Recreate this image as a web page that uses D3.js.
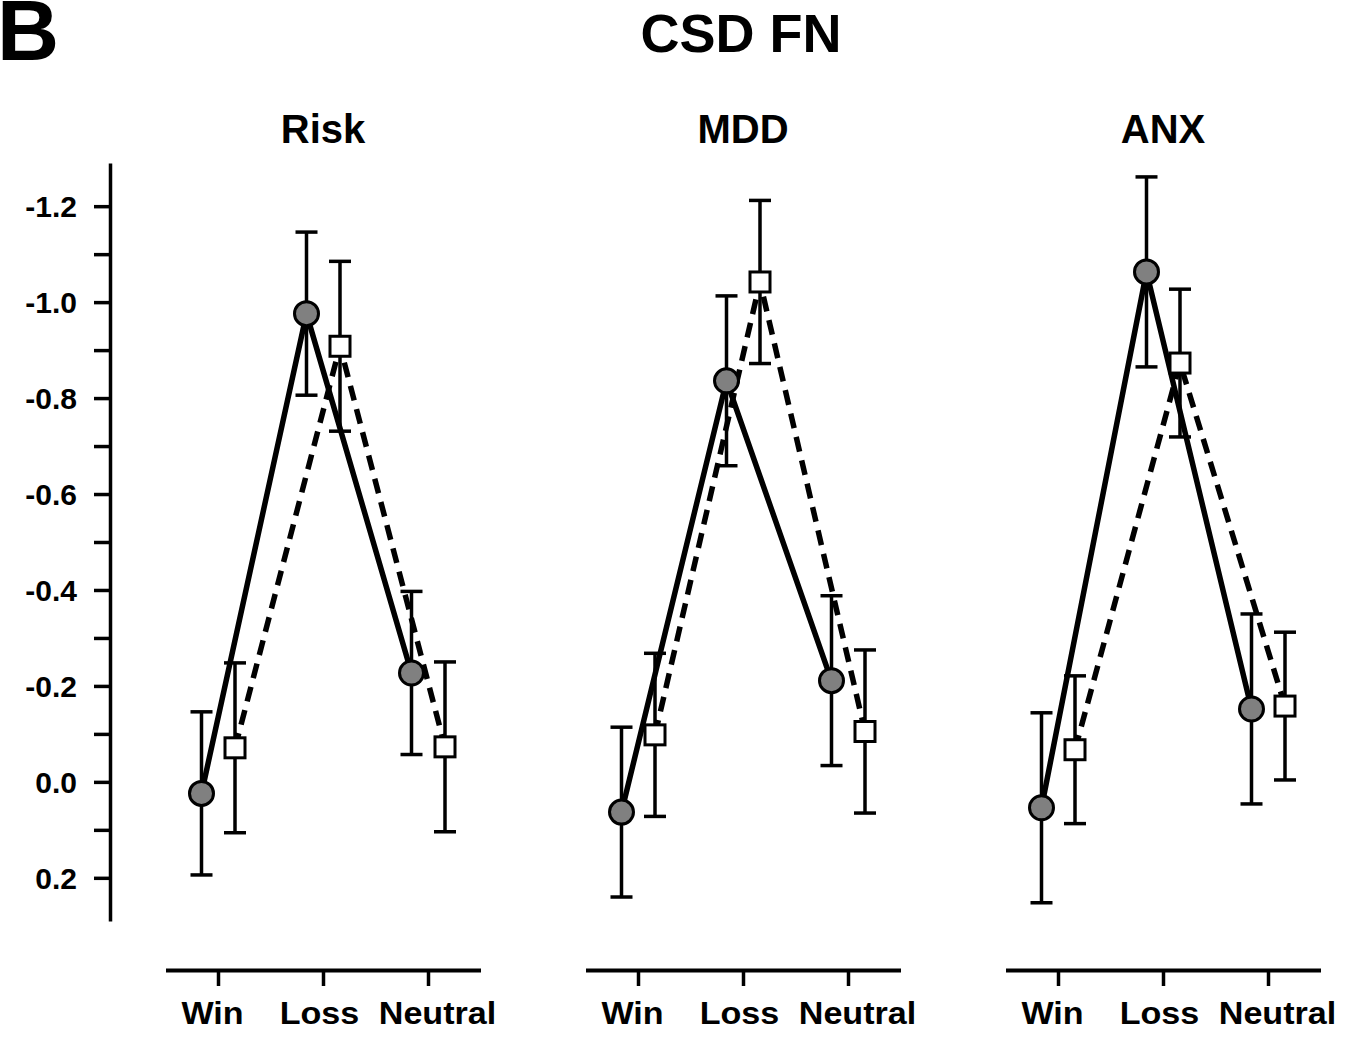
<!DOCTYPE html>
<html>
<head>
<meta charset="utf-8">
<script src="https://cdn.jsdelivr.net/npm/d3@7"></script>
<style>
  body { margin: 0; background: #fff; }
  svg { display: block; background: #fff; }
  text { font-family: "Liberation Sans", Arial, Helvetica, sans-serif; font-weight: bold; fill: #000; }
</style>
</head>
<body>
<svg id="chart" width="1366" height="1043"></svg>
<script>
// Conditions and groups
const conditions = ["Win", "Loss", "Neutral"];
const groups = ["Risk", "MDD", "ANX"];

// Mean amplitude and SE per condition (circles = solid line, squares = dashed line)
const riskCircleMean = [0.024, -0.976, -0.227];
const riskCircleSE   = [0.170, 0.170, 0.170];
const riskSquareMean = [-0.071, -0.908, -0.073];
const riskSquareSE   = [0.177, 0.177, 0.177];

const mddCircleMean  = [0.063, -0.836, -0.211];
const mddCircleSE    = [0.177, 0.177, 0.177];
const mddSquareMean  = [-0.098, -1.042, -0.105];
const mddSquareSE    = [0.170, 0.170, 0.170];

const anxCircleMean  = [0.054, -1.063, -0.152];
const anxCircleSE    = [0.198, 0.198, 0.198];
const anxSquareMean  = [-0.067, -0.873, -0.158];
const anxSquareSE    = [0.154, 0.154, 0.154];

// Y axis ticks (labelled and unlabelled)
const yMajorTicks = [-1.2, -1.0, -0.8, -0.6, -0.4, -0.2, 0.0, 0.2];
const yMinorTicks = [-1.1, -0.9, -0.7, -0.5, -0.3, -0.1, 0.1];

const mainTitle = "CSD FN";
const panelLetter = "B";

// ---- assemble per-group series ----
const panels = [
  { name: groups[0], circle: riskCircleMean, circleSE: riskCircleSE, square: riskSquareMean, squareSE: riskSquareSE },
  { name: groups[1], circle: mddCircleMean,  circleSE: mddCircleSE,  square: mddSquareMean,  squareSE: mddSquareSE },
  { name: groups[2], circle: anxCircleMean,  circleSE: anxCircleSE,  square: anxSquareMean,  squareSE: anxSquareSE }
];

const svg = d3.select("#chart");

// Inverted value axis: negative values plotted upward
const y = d3.scaleLinear().domain([-1.29, 0.29]).range([163, 921]);

// Panel centres
const gx = d3.scalePoint().domain(groups).range([323, 1163]);

// Small horizontal nudges for the category labels so they don't crowd
const labelNudge = { Win: -6, Loss: -4, Neutral: 9 };

// Title and panel letter
svg.append("text").attr("x", -3).attr("y", 60).attr("font-size", 86).text(panelLetter);
svg.append("text").attr("x", 741).attr("y", 52).attr("text-anchor", "middle")
  .attr("font-size", 54).text(mainTitle);

// Y axis
const allTicks = yMajorTicks.concat(yMinorTicks).sort((a, b) => a - b);
const isMajor = d => Math.round(Math.abs(d) * 10) % 2 === 0;
const yAxis = d3.axisLeft(y)
  .tickValues(allTicks)
  .tickSize(16)
  .tickSizeOuter(0)
  .tickPadding(17)
  .tickFormat(d => isMajor(d) ? d.toFixed(1) : "");
const yg = svg.append("g").attr("transform", "translate(110,0)").call(yAxis);
yg.select(".domain").attr("stroke", "#000").attr("stroke-width", 3.5);
yg.selectAll(".tick line").attr("stroke", "#000").attr("stroke-width", 3.5);
yg.selectAll(".tick text")
  .attr("font-size", 30).attr("font-family", null).attr("fill", "#000")
  .attr("dy", "0.36em");

const lineGen = d3.line().x(d => d.x).y(d => y(d.v));

panels.forEach(p => {
  const cx = gx(p.name);
  const x = d3.scalePoint().domain(conditions).range([cx - 157.5, cx + 157.5]).padding(0.5);
  const g = svg.append("g");

  // Subplot title
  g.append("text").attr("x", cx).attr("y", 143).attr("text-anchor", "middle")
    .attr("font-size", 40).text(p.name);

  // Category axis
  const xAxis = d3.axisBottom(x).tickSize(16).tickSizeOuter(0).tickPadding(0);
  const xg = g.append("g").attr("transform", "translate(0,970)").call(xAxis);
  xg.select(".domain").attr("stroke", "#000").attr("stroke-width", 4);
  xg.selectAll(".tick line").attr("stroke", "#000").attr("stroke-width", 3.5);
  xg.selectAll(".tick text")
    .attr("font-size", 31).attr("font-family", null).attr("fill", "#000")
    .attr("y", 54).attr("dy", 0)
    .attr("transform", d => `translate(${labelNudge[d]},0) scale(1.1,1)`);

  const circlePts = conditions.map((c, i) => ({ x: x(c) - 16.5, v: p.circle[i], se: p.circleSE[i] }));
  const squarePts = conditions.map((c, i) => ({ x: x(c) + 17, v: p.square[i], se: p.squareSE[i] }));

  // Error bars
  [circlePts, squarePts].forEach(pts => {
    const eb = g.append("g").attr("stroke", "#000").attr("stroke-width", 3.5);
    pts.forEach(d => {
      eb.append("line").attr("x1", d.x).attr("x2", d.x).attr("y1", y(d.v - d.se)).attr("y2", y(d.v + d.se));
      eb.append("line").attr("x1", d.x - 11).attr("x2", d.x + 11).attr("y1", y(d.v - d.se)).attr("y2", y(d.v - d.se));
      eb.append("line").attr("x1", d.x - 11).attr("x2", d.x + 11).attr("y1", y(d.v + d.se)).attr("y2", y(d.v + d.se));
    });
  });

  // Connecting lines
  g.append("path").datum(circlePts).attr("d", lineGen)
    .attr("fill", "none").attr("stroke", "#000").attr("stroke-width", 5.5);
  g.append("path").datum(squarePts).attr("d", lineGen)
    .attr("fill", "none").attr("stroke", "#000").attr("stroke-width", 5.5)
    .attr("stroke-dasharray", "15,9");

  // Markers
  g.selectAll("circle.m").data(circlePts).join("circle").attr("class", "m")
    .attr("cx", d => d.x).attr("cy", d => y(d.v)).attr("r", 12)
    .attr("fill", "#808080").attr("stroke", "#000").attr("stroke-width", 3);
  g.selectAll("rect.m").data(squarePts).join("rect").attr("class", "m")
    .attr("x", d => d.x - 10).attr("y", d => y(d.v) - 10).attr("width", 20).attr("height", 20)
    .attr("fill", "#fff").attr("stroke", "#000").attr("stroke-width", 3);
});
</script>
</body>
</html>
